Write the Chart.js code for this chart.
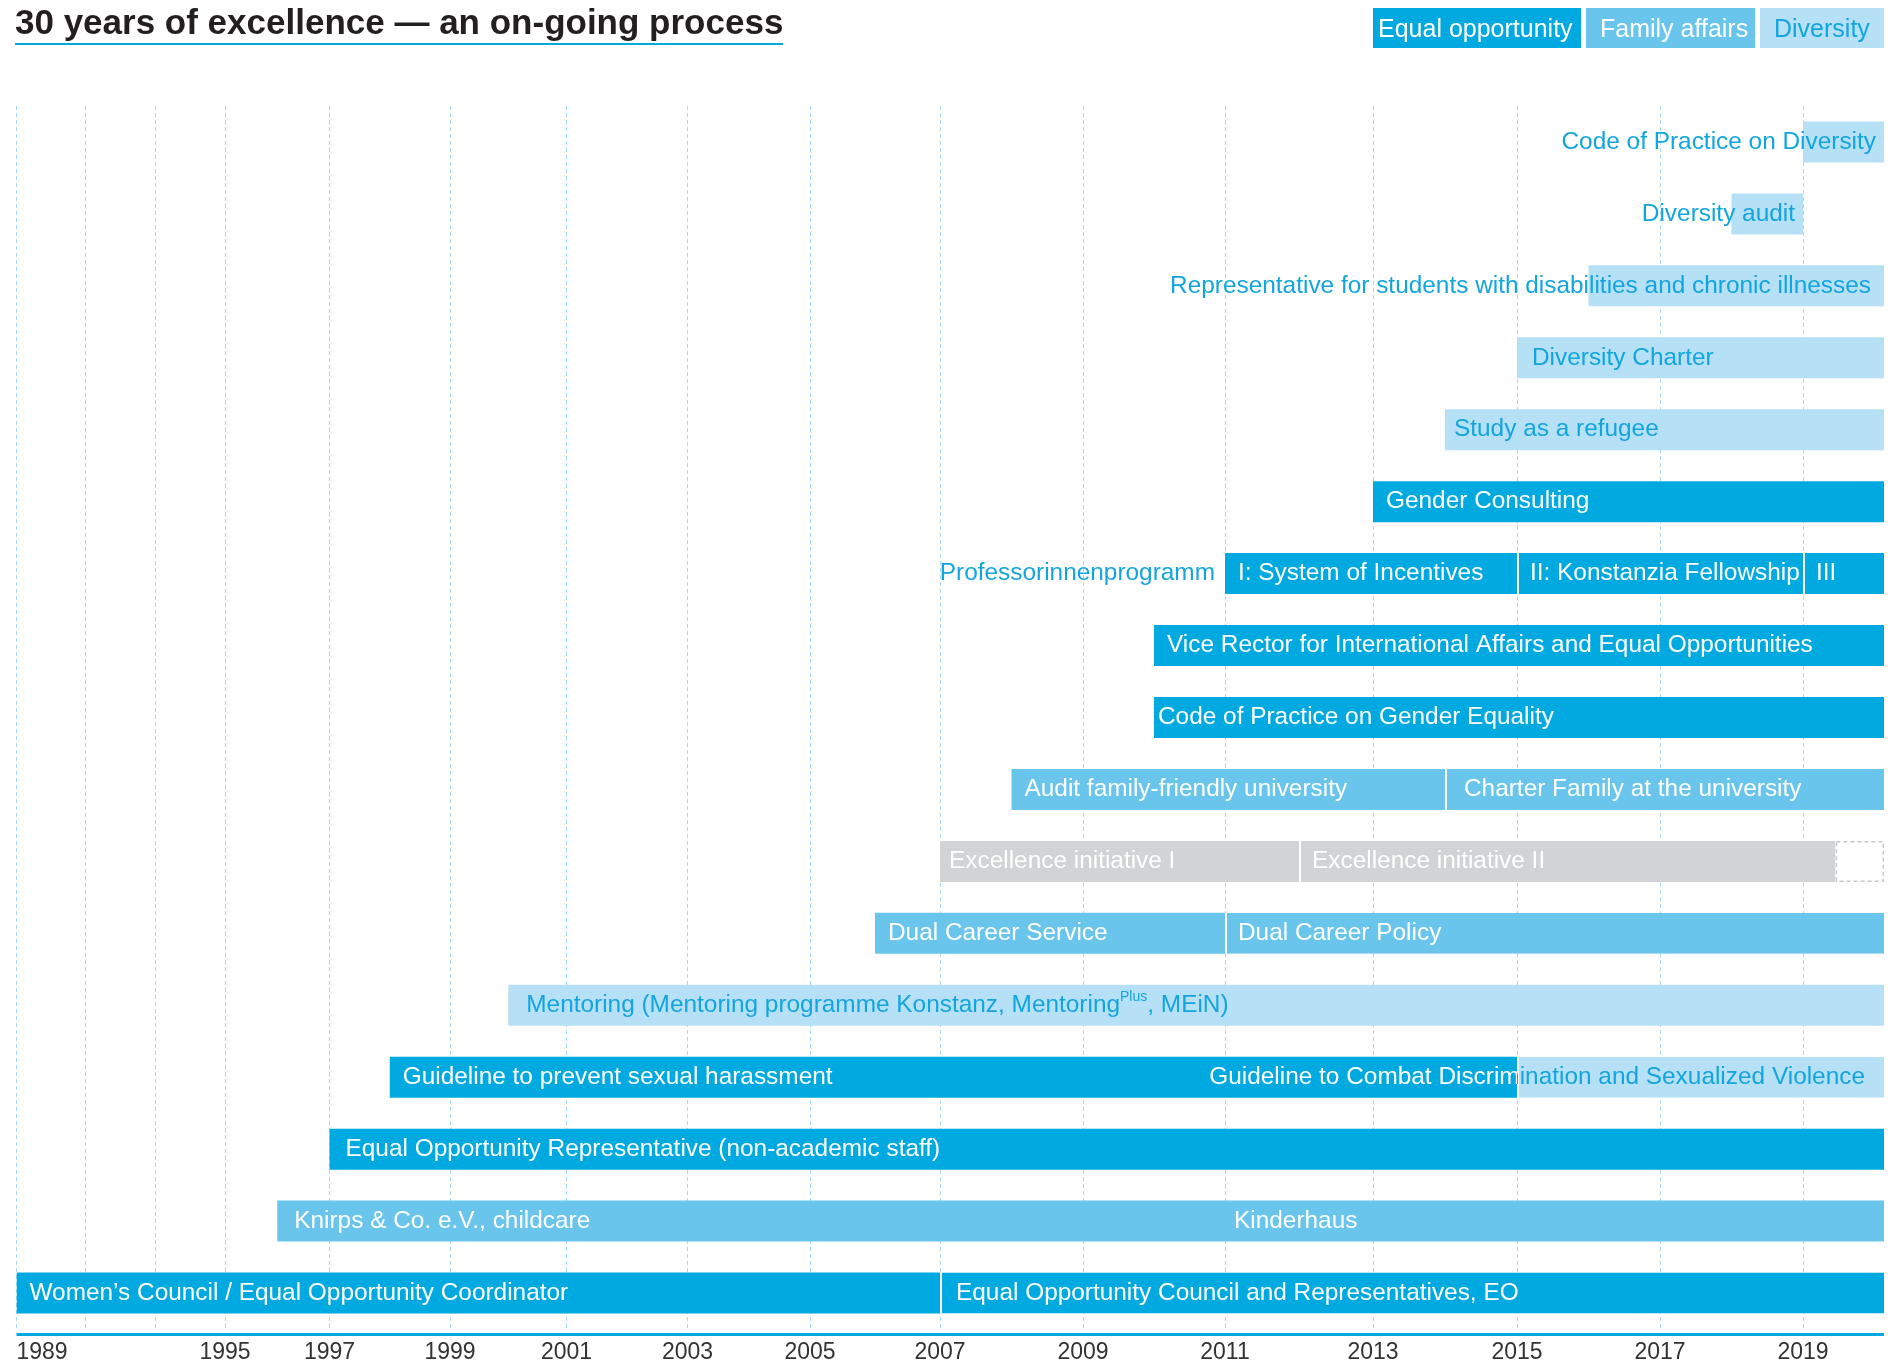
<!DOCTYPE html>
<html>
<head>
<meta charset="utf-8">
<title>30 years of excellence</title>
<script src="https://cdn.jsdelivr.net/npm/chart.js@4.4.1/dist/chart.umd.min.js"></script>
<style>
  html, body { margin: 0; padding: 0; background: #fff; }
  #wrap { position: relative; width: 1895px; height: 1365px; overflow: hidden; }
  #chart { position: absolute; left: 0; top: 0; }
  #title { position: absolute; left: 15px; top: 2px; margin: 0; font: bold 35px/40px 'Liberation Sans', Arial, sans-serif; color: #231f20; border-bottom: 2px solid #00a9e0; padding-bottom: 1px; white-space: nowrap; }
  #legend { position: absolute; right: 11px; top: 8px; display: flex; gap: 5px; }
  #legend span { box-sizing: border-box; display: block; height: 40px; font: 25px/41px 'Liberation Sans', Arial, sans-serif; white-space: nowrap; }
  #legend span:nth-child(1) { width: 208px; padding-left: 5px; }
  #legend span:nth-child(2) { width: 169px; padding-left: 14px; }
  #legend span:nth-child(3) { width: 124px; padding-left: 14px; }
</style>
</head>
<body>
<div id="wrap">
  <canvas id="chart" width="1895" height="1365"></canvas>
  <div id="title">30 years of excellence — an on-going process</div>
  <div id="legend"></div>
</div>
<script>
var END = 2020;

// rows of the timeline, top to bottom
var rows = [
    'Code of Practice on Diversity', 'Diversity audit', 'Representative for students',
    'Diversity Charter', 'Study as a refugee', 'Gender Consulting', 'Professorinnenprogramm',
    'Vice Rector', 'Code of Practice on Gender Equality', 'Family', 'Excellence initiative',
    'Dual Career', 'Mentoring', 'Guideline', 'Equal Opportunity Representative',
    'Childcare', 'Women’s Council'
];
// one entry per bar segment
var segRow  = [0, 1, 2, 3, 4, 5, 6, 6, 6, 7, 8, 9, 9, 10, 10, 10, 11, 11, 12, 13, 13, 14, 15, 15, 16, 16];
var segFrom = [2019, 2018, 2016, 2015, 2014, 2013, 2011, 2015, 2019, 2010, 2010, 2008, 2014, 2007, 2012, 2019.4, 2006, 2011, 2000, 1998, 2015, 1997, 1996, 2011, 1989, 2007];
var segTo   = [END, 2019, END, END, END, END, 2015, 2019, END, END, END, 2014, END, 2012, 2019.4, END, 2011, END, END, 2015, END, END, 2011, END, 2007, END];
var segKind = ['div', 'div', 'div', 'div', 'div', 'eq', 'eq', 'eq', 'eq', 'eq', 'eq', 'fam', 'fam', 'exc', 'exc', 'open', 'fam', 'fam', 'div', 'eq', 'div', 'eq', 'fam', 'fam', 'eq', 'eq'];
var segText = [
    'Code of Practice on Diversity',
    'Diversity audit',
    'Representative for students with disabilities and chronic illnesses',
    'Diversity Charter',
    'Study as a refugee',
    'Gender Consulting',
    'I: System of Incentives',
    'II: Konstanzia Fellowship',
    'III',
    'Vice Rector for International Affairs and Equal Opportunities',
    'Code of Practice on Gender Equality',
    'Audit family-friendly university',
    'Charter Family at the university',
    'Excellence initiative I',
    'Excellence initiative II',
    '',
    'Dual Career Service',
    'Dual Career Policy',
    'Mentoring (Mentoring programme Konstanz, Mentoring^{Plus}, MEiN)',
    'Guideline to prevent sexual harassment',
    'Guideline to Combat Discrimination and Sexualized Violence',
    'Equal Opportunity Representative (non-academic staff)',
    'Knirps & Co. e.V., childcare',
    'Kinderhaus',
    'Women’s Council / Equal Opportunity Coordinator',
    'Equal Opportunity Council and Representatives, EO'
];
var kinds = ['eq', 'fam', 'div'];
var kindNames = ['Equal opportunity', 'Family affairs', 'Diversity'];
var gridYears = [1989, 1991, 1993, 1995, 1997, 1999, 2001, 2003, 2005, 2007, 2009, 2011, 2013, 2015, 2017, 2019];
var labelYears = [1989, 1995, 1997, 1999, 2001, 2003, 2005, 2007, 2009, 2011, 2013, 2015, 2017, 2019];

// styling
var FONT = '"Liberation Sans", Arial, sans-serif';
var BLUE_TEXT = '#12a5de';
var kindFill = { eq: '#00a9e0', fam: '#69c5eb', div: '#b6e0f5', exc: '#d1d3d4', open: 'rgba(0,0,0,0)' };
var whiteText = { eq: true, fam: true, exc: true };
var noSeparator = ['Kinderhaus'];
// relative widths of the axis intervals (the printed time axis is not uniform)
var axisSpans = [69.2, 69.3, 70, 104.5, 120.5, 116.5, 121, 122.5, 130, 143, 142, 148, 144, 143, 143, 81];

// legend
kinds.forEach(function (k, i) {
    var s = document.createElement('span');
    s.textContent = kindNames[i];
    s.style.background = kindFill[k];
    s.style.color = whiteText[k] ? '#fff' : BLUE_TEXT;
    document.getElementById('legend').appendChild(s);
});

class YearScale extends Chart.LinearScale {
    buildTicks() {
        this.start = this.min;
        this.end = this.max;
        return gridYears.concat([END]).map(function (v) { return { value: v }; });
    }
    toDecimal(v) {
        var knots = gridYears.concat([END]), total = 0, acc = 0, i;
        for (i = 0; i < axisSpans.length; i++) total += axisSpans[i];
        if (v <= knots[0]) return 0;
        for (i = 0; i < axisSpans.length; i++) {
            if (v <= knots[i + 1]) return (acc + axisSpans[i] * (v - knots[i]) / (knots[i + 1] - knots[i])) / total;
            acc += axisSpans[i];
        }
        return 1;
    }
    getPixelForValue(v) {
        if (v === null || v === undefined || isNaN(v)) return NaN;
        return this.getPixelForDecimal(this.toDecimal(v));
    }
    getValueForPixel(p) {
        var d = this.getDecimalForPixel(p), lo = this.min, hi = this.max;
        for (var k = 0; k < 40; k++) {
            var mid = (lo + hi) / 2;
            if (this.toDecimal(mid) < d) lo = mid; else hi = mid;
        }
        return (lo + hi) / 2;
    }
}
YearScale.id = 'year';
YearScale.defaults = Chart.LinearScale.defaults;
Chart.register(YearScale);

function joinsPrev(i) {
    if (noSeparator.indexOf(segText[i]) >= 0) return false;
    for (var j = 0; j < segRow.length; j++) {
        if (j !== i && segRow[j] === segRow[i] && segTo[j] === segFrom[i]) return true;
    }
    return false;
}

function richParts(text) {
    var out = [], re = /\^\{([^}]*)\}/g, last = 0, m;
    while ((m = re.exec(text))) {
        out.push({ t: text.slice(last, m.index) });
        out.push({ t: m[1], sup: true });
        last = re.lastIndex;
    }
    out.push({ t: text.slice(last) });
    return out;
}

function drawRich(ctx, text, x, y, align, font, supFont) {
    var parts = richParts(text), w = 0;
    parts.forEach(function (p) {
        ctx.font = p.sup ? supFont : font;
        p.w = ctx.measureText(p.t).width;
        w += p.w;
    });
    var cx = align === 'right' ? x - w : x;
    ctx.textAlign = 'left';
    parts.forEach(function (p) {
        ctx.font = p.sup ? supFont : font;
        ctx.fillText(p.t, cx, p.sup ? y - 8 : y);
        cx += p.w;
    });
}

var segLabels = {
    id: 'segLabels',
    afterDatasetsDraw: function (chart, args, opts) {
        var ctx = chart.ctx, meta = chart.getDatasetMeta(0), area = chart.chartArea;
        var rects = meta.data.map(function (bar, i) {
            var l = Math.min(bar.x, bar.base), r = Math.max(bar.x, bar.base);
            return { l: l, r: r, t: bar.y - bar.height / 2, b: bar.y + bar.height / 2, y: bar.y, row: segRow[i], kind: segKind[i] };
        });
        ctx.save();
        ctx.textBaseline = 'middle';

        // open-ended (dashed) segments
        rects.forEach(function (r) {
            if (r.kind !== 'open') return;
            ctx.save();
            ctx.setLineDash([4, 3]);
            ctx.strokeStyle = '#c6c8ca';
            ctx.lineWidth = 1.5;
            ctx.strokeRect(r.l + 1, r.t + 0.75, r.r - r.l - 1.75, r.b - r.t - 1.5);
            ctx.restore();
        });

        function put(text, x, y, align, row) {
            var whites = rects.filter(function (r) { return r.row === row && whiteText[r.kind]; });
            ctx.save();
            ctx.beginPath();
            ctx.rect(0, 0, chart.width, chart.height);
            whites.forEach(function (r) { ctx.rect(r.l, r.t, r.r - r.l, r.b - r.t); });
            ctx.clip('evenodd');
            ctx.fillStyle = BLUE_TEXT;
            drawRich(ctx, text, x, y, align, opts.font, opts.supFont);
            ctx.restore();
            whites.forEach(function (r) {
                ctx.save();
                ctx.beginPath();
                ctx.rect(r.l, r.t, r.r - r.l, r.b - r.t);
                ctx.clip();
                ctx.fillStyle = '#fff';
                drawRich(ctx, text, x, y, align, opts.font, opts.supFont);
                ctx.restore();
            });
        }

        segText.forEach(function (text, i) {
            if (!text) return;
            var r = rects[i];
            if (opts.endPadFor[text] !== undefined) {
                put(text, r.r - opts.endPadFor[text], r.y, 'right', r.row);
            } else {
                var pad = opts.padFor[text] !== undefined ? opts.padFor[text] : opts.pad;
                put(text, r.l + pad, r.y, 'left', r.row);
            }
        });

        // captions standing left of a row
        opts.captions.forEach(function (name) {
            var row = rows.indexOf(name), first = null;
            rects.forEach(function (r) { if (r.row === row && (!first || r.l < first.l)) first = r; });
            if (first) put(name, first.l - 10, first.y, 'right', row);
        });

        // axis line
        ctx.fillStyle = '#00a9e0';
        ctx.fillRect(area.left, area.bottom + 4, area.right - area.left, 3);
        ctx.restore();
    }
};

new Chart(document.getElementById('chart'), {
    type: 'bar',
    data: {
        labels: rows,
        datasets: [{
            data: segText.map(function (t, i) { return { x: [segFrom[i], segTo[i]], y: rows[segRow[i]] }; }),
            backgroundColor: segKind.map(function (k) { return kindFill[k]; }),
            borderColor: '#fff',
            borderSkipped: false,
            borderWidth: function (c) {
                return joinsPrev(c.dataIndex) ? { left: 2, right: 0, top: 0, bottom: 0 } : 0;
            },
            barPercentage: 0.57,
            categoryPercentage: 1
        }]
    },
    options: {
        indexAxis: 'y',
        responsive: false,
        animation: false,
        devicePixelRatio: 1,
        layout: { padding: { top: 106, left: 16.5, right: 11, bottom: 0 } },
        plugins: {
            legend: { display: false },
            tooltip: { enabled: false },
            segLabels: {
                font: '24.4px ' + FONT,
                supFont: '14px ' + FONT,
                pad: 13,
                padFor: {
                    'Code of Practice on Gender Equality': 4,
                    'Mentoring (Mentoring programme Konstanz, Mentoring^{Plus}, MEiN)': 18,
                    'Charter Family at the university': 19,
                    'Excellence initiative I': 9,
                    'Study as a refugee': 9,
                    'Kinderhaus': 9,
                    'Equal Opportunity Representative (non-academic staff)': 16,
                    'Knirps & Co. e.V., childcare': 17,
                    'Equal Opportunity Council and Representatives, EO': 16,
                    'Diversity Charter': 15
                },
                endPadFor: {
                    'Code of Practice on Diversity': 8,
                    'Diversity audit': 8,
                    'Representative for students with disabilities and chronic illnesses': 13,
                    'Guideline to Combat Discrimination and Sexualized Violence': 19
                },
                captions: ['Professorinnenprogramm']
            }
        },
        scales: {
            y: { display: false },
            x: {
                type: 'year',
                position: 'bottom',
                min: 1989,
                max: END,
                grid: {
                    color: function (c) { return c.tick && c.tick.value === END ? 'rgba(0,0,0,0)' : '#a6dbf3'; },
                    lineWidth: 1,
                    drawTicks: false
                },
                border: { display: false, dash: [4, 3] },
                ticks: {
                    autoSkip: false,
                    maxRotation: 0,
                    align: 'inner',
                    padding: 10,
                    color: '#333',
                    font: { size: 23, family: FONT },
                    callback: function (v) { return labelYears.indexOf(v) >= 0 ? String(v) : ''; }
                },
                afterFit: function (s) { s.height = 36; }
            }
        }
    },
    plugins: [segLabels]
});
</script>
</body>
</html>
